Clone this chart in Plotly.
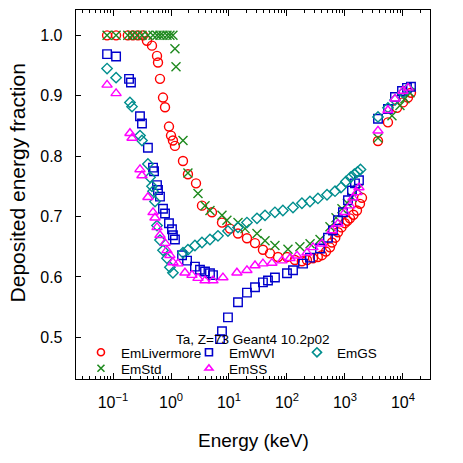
import plotly.graph_objects as go

# ---------------- data ----------------
E_liv = [0.079, 0.113, 0.18, 0.22, 0.27, 0.33, 0.385, 0.47, 0.574, 0.597, 0.646, 0.728, 0.789, 0.923, 1.0, 1.08,
         1.17, 1.61, 1.96, 2.7, 3.42, 5.09, 7.57, 10.4, 14.3, 20.4, 28.1, 38.5, 50.9, 70, 100, 137, 180, 221, 281,
         340, 401, 470, 551, 597, 680, 757, 870, 996, 1100, 1219, 1400, 1610, 1815, 1965, 3710, 5510, 7890, 10000,
         12190, 13740]
V_liv = [1.0, 1.0, 1.0, 1.0, 1.0, 1.0, 0.991, 0.983, 0.966, 0.955, 0.928, 0.897, 0.881, 0.849, 0.834, 0.826,
         0.817, 0.792, 0.770, 0.755, 0.718, 0.707, 0.690, 0.680, 0.672, 0.664, 0.656, 0.645, 0.639, 0.633, 0.633,
         0.628, 0.626, 0.628, 0.631, 0.633, 0.636, 0.642, 0.649, 0.657, 0.665, 0.674, 0.682, 0.689, 0.693, 0.697,
         0.703, 0.710, 0.721, 0.731, 0.825, 0.856, 0.880, 0.889, 0.897, 0.905]

E_std = [0.079, 0.113, 0.18, 0.213, 0.26, 0.316, 0.40, 0.49, 0.574, 0.646, 0.728, 0.853, 0.958, 1.08, 1.17, 1.22,
         1.61, 1.96, 2.92, 3.86, 4.7, 7.57, 9.2, 14.3, 18.9, 30.4, 41.8, 62, 104, 167, 250, 371, 551, 700, 887,
         1100, 1321, 1677, 3710, 6460, 8870, 10800, 13200]
V_std = [1.0, 1.0, 1.0, 1.0, 1.0, 1.0, 1.0, 1.0, 1.0, 1.0, 1.0, 1.0, 1.0, 1.0, 0.978, 0.948,
         0.826, 0.772, 0.738, 0.718, 0.710, 0.702, 0.694, 0.690, 0.680, 0.672, 0.660, 0.652, 0.646, 0.650, 0.655,
         0.662, 0.683, 0.698, 0.713, 0.722, 0.732, 0.745, 0.830, 0.867, 0.884, 0.895, 0.905]

E_wvi = [0.079, 0.113, 0.189, 0.204, 0.292, 0.316, 0.40, 0.49, 0.51, 0.574, 0.597, 0.646, 0.728, 0.789, 0.923,
         1.04, 1.08, 1.17, 1.55, 1.89, 2.59, 3.16, 3.86, 4.7, 5.3, 7.0, 7.57, 9.6, 14.3, 20.4, 28.1, 38.5, 47, 62,
         100, 127, 189, 249, 371, 509, 621, 757, 923, 1127, 1321, 1486, 1742, 3710, 5510, 7280, 9620, 11720, 13740]
V_wvi = [0.969, 0.965, 0.928, 0.922, 0.866, 0.854, 0.814, 0.781, 0.775, 0.752, 0.744, 0.733, 0.713, 0.705, 0.689,
         0.679, 0.669, 0.662, 0.636, 0.627, 0.617, 0.612, 0.609, 0.606, 0.603, 0.497, 0.510, 0.533, 0.558, 0.574,
         0.583, 0.591, 0.594, 0.599, 0.606, 0.611, 0.622, 0.632, 0.647, 0.665, 0.677, 0.694, 0.707, 0.727, 0.743,
         0.755, 0.760, 0.862, 0.878, 0.898, 0.908, 0.913, 0.915]

E_ss = [0.079, 0.113, 0.196, 0.213, 0.292, 0.316, 0.40, 0.49, 0.53, 0.574, 0.646, 0.789, 0.853, 0.958, 1.08, 1.32,
        1.74, 2.30, 2.92, 3.86, 5.3, 7.87, 13.7, 20.4, 28.1, 38.5, 55, 82, 113, 149, 221, 281, 401, 597, 757, 996,
        1219, 1375, 1610, 1742, 3710, 5510, 7280, 10000, 12190]
V_ss = [0.918, 0.904, 0.838, 0.830, 0.778, 0.768, 0.732, 0.707, 0.698, 0.682, 0.669, 0.656, 0.644, 0.636, 0.624,
        0.622, 0.607, 0.603, 0.598, 0.594, 0.594, 0.599, 0.607, 0.611, 0.619, 0.622, 0.623, 0.627, 0.631, 0.635,
        0.640, 0.649, 0.655, 0.677, 0.688, 0.707, 0.718, 0.731, 0.740, 0.748, 0.842, 0.876, 0.895, 0.908, 0.913]

E_gs = [0.079, 0.113, 0.196, 0.213, 0.292, 0.316, 0.40, 0.435, 0.47, 0.49, 0.53, 0.574, 0.646, 0.728, 0.853, 0.958,
        1.08, 1.61, 1.96, 2.59, 3.42, 4.7, 6.46, 9.6, 14.3, 20.4, 30.4, 41.8, 62, 85, 127, 181, 249, 342, 490, 673,
        853, 1040, 1250, 1450, 1650, 1850, 3710, 5510, 7280, 10000, 12190]
V_gs = [0.945, 0.930, 0.889, 0.882, 0.834, 0.826, 0.787, 0.765, 0.750, 0.742, 0.725, 0.685, 0.661, 0.644, 0.631,
        0.616, 0.607, 0.640, 0.645, 0.652, 0.657, 0.662, 0.668, 0.676, 0.682, 0.690, 0.697, 0.702, 0.707, 0.710,
        0.715, 0.722, 0.725, 0.730, 0.736, 0.742, 0.748, 0.758, 0.765, 0.770, 0.774, 0.778, 0.865, 0.880, 0.893,
        0.905, 0.912]

x_major = [0.1, 1, 10, 100, 1000, 10000]
x_major_text = ["10<sup>\u22121</sup>", "10<sup>0</sup>", "10<sup>1</sup>", "10<sup>2</sup>",
                "10<sup>3</sup>", "10<sup>4</sup>"]
y_ticks = [0.5, 0.6, 0.7, 0.8, 0.9, 1.0]
x_minor = [m * 10 ** k for k in range(-2, 5) for m in range(2, 10)]

series = [
    # name, E, V, symbol, color, size
    ("EmLivermore", E_liv, V_liv, "circle-open", "#ff0000", 9),
    ("EmStd", E_std, V_std, "x-thin-open", "#1f8a1f", 9),
    ("EmWVI", E_wvi, V_wvi, "square-open", "#0000cc", 8.5),
    ("EmGS", E_gs, V_gs, "diamond-open", "#008e8e", 8),
    ("EmSS", E_ss, V_ss, "triangle-up-open", "#ff00ff", 9),
]
legend_rows = [("legend", ["EmLivermore", "EmWVI", "EmGS"]), ("legend2", ["EmStd", "EmSS"])]

FONT = "Liberation Sans, Arial, Helvetica, sans-serif"

fig = go.Figure()
for name, E, V, sym, col, sz in series:
    fig.add_trace(go.Scatter(
        x=E, y=V, mode="markers", name=name, showlegend=False,
        marker=dict(symbol=sym, size=sz, color=col, line=dict(color=col, width=1.4)),
    ))

style = {s[0]: s for s in series}
for lg, names in legend_rows:
    for name in names:
        _, _, _, sym, col, _ = style[name]
        fig.add_trace(go.Scatter(
            x=[None], y=[None], mode="markers", name=name, showlegend=True, legend=lg,
            marker=dict(symbol=sym, size=7, color=col, line=dict(color=col, width=1.6)),
        ))

legend_common = dict(
    orientation="h", x=0.014, xanchor="left", yanchor="top",
    bgcolor="rgba(0,0,0,0)", borderwidth=0,
    font=dict(size=13.5, family=FONT), entrywidth=63, entrywidthmode="pixels",
    tracegroupgap=0, itemclick=False,
)

fig.update_layout(
    width=463, height=463,
    margin=dict(l=76, r=33, t=10, b=84, autoexpand=False),
    paper_bgcolor="white", plot_bgcolor="white",
    font=dict(family=FONT, color="black", size=16),
    showlegend=True,
    legend=dict(legend_common, y=0.1137),
    legend2=dict(legend_common, y=0.0704),
    xaxis=dict(
        type="log", range=[-1.638, 4.466],
        showline=True, linecolor="black", linewidth=1.3, mirror="allticks",
        ticks="inside", ticklen=6, tickwidth=1, tickcolor="black",
        tickmode="array", tickvals=x_major, ticktext=x_major_text,
        tickfont=dict(size=16), ticklabelstandoff=8,
        minor=dict(ticks="inside", ticklen=3, tickwidth=1, tickcolor="black",
                   tickmode="array", tickvals=x_minor),
        showgrid=False, zeroline=False,
    ),
    yaxis=dict(
        range=[0.431, 1.042],
        showline=True, linecolor="black", linewidth=1.3, mirror=True,
        ticks="inside", ticklen=5, tickwidth=1, tickcolor="black",
        tickmode="array", tickvals=y_ticks, tickformat=".1f",
        tickfont=dict(size=16), ticklabelstandoff=9,
        showgrid=False, zeroline=False,
    ),
    annotations=[
        dict(text="Energy (keV)", xref="paper", yref="paper", x=0.5, y=0, yshift=-61,
             xanchor="center", yanchor="middle", showarrow=False, font=dict(size=19)),
        dict(text="Deposited energy fraction", xref="paper", yref="paper", x=0, y=0.53,
             xshift=-59, xanchor="center", yanchor="middle", textangle=-90, showarrow=False,
             font=dict(size=21)),
        dict(text="Ta, Z=73 Geant4 10.2p02", xref="paper", yref="paper", x=0.5, y=0.108,
             xanchor="center", yanchor="middle", showarrow=False, font=dict(size=13.5)),
    ],
)

fig.write_html(
    "out.html",
    config={"displayModeBar": False, "staticPlot": True},
    post_script="document.body.style.margin='0';document.body.style.padding='0';"
                "document.documentElement.style.overflow='hidden';",
)
